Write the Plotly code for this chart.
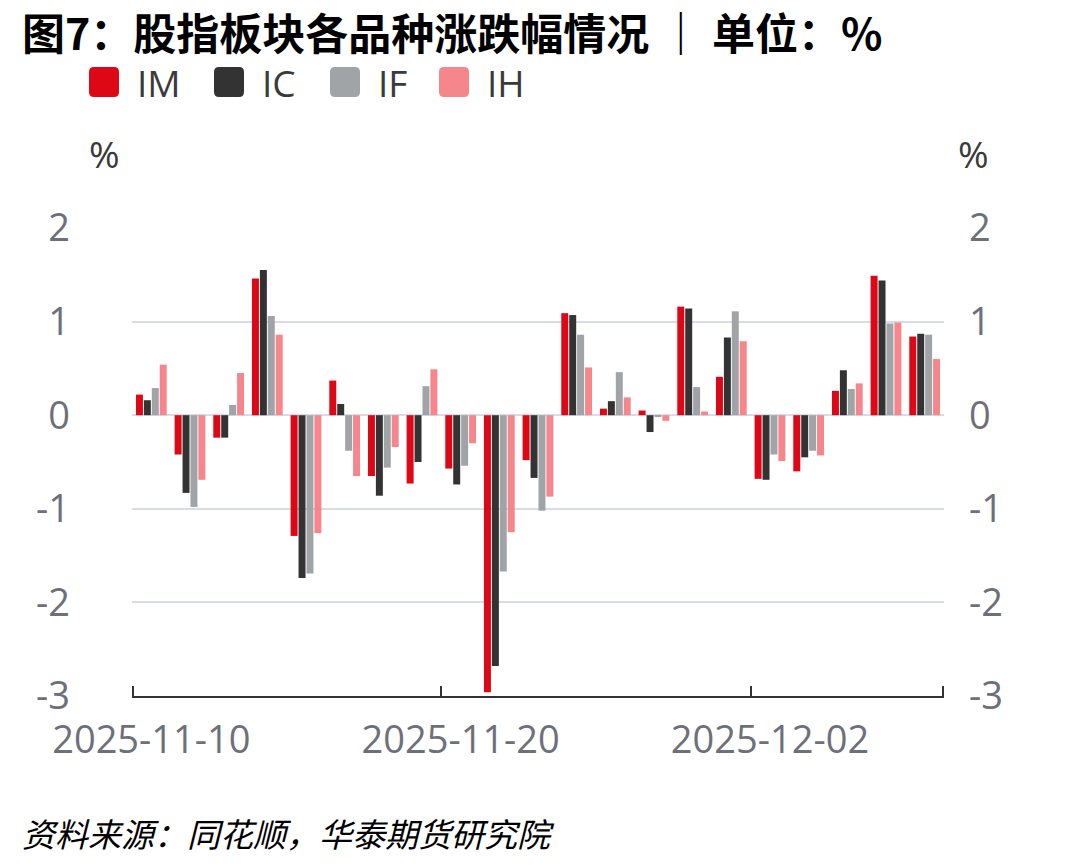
import plotly.graph_objects as go

# ---------------- data ----------------
dates = ["2025-11-10", "2025-11-11", "2025-11-12", "2025-11-13", "2025-11-14",
         "2025-11-17", "2025-11-18", "2025-11-19", "2025-11-20", "2025-11-21",
         "2025-11-24", "2025-11-25", "2025-11-26", "2025-11-27", "2025-11-28",
         "2025-12-01", "2025-12-02", "2025-12-03", "2025-12-04", "2025-12-05",
         "2025-12-08"]
series_names = ["IM", "IC", "IF", "IH"]
IM = [0.22, -0.42, -0.24, 1.46, -1.29, 0.37, -0.65, -0.73, -0.57, -2.96, -0.48,
      1.09, 0.07, 0.05, 1.16, 0.41, -0.68, -0.60, 0.26, 1.49, 0.84]
IC = [0.16, -0.83, -0.24, 1.55, -1.74, 0.12, -0.86, -0.50, -0.74, -2.68, -0.67,
      1.07, 0.15, -0.18, 1.14, 0.83, -0.69, -0.45, 0.48, 1.44, 0.87]
IF = [0.29, -0.98, 0.11, 1.06, -1.69, -0.38, -0.56, 0.31, -0.54, -1.67, -1.02,
      0.86, 0.46, -0.02, 0.30, 1.11, -0.42, -0.38, 0.28, 0.98, 0.86]
IH = [0.54, -0.69, 0.45, 0.86, -1.26, -0.65, -0.34, 0.49, -0.30, -1.25, -0.87,
      0.51, 0.19, -0.06, 0.04, 0.79, -0.49, -0.43, 0.34, 0.99, 0.60]
y_ticks = [-3, -2, -1, 0, 1, 2]
y_ticktext = ["-3", "-2", "-1", "0", "1", "2"]
x_label_idx = [0, 8, 16]
title_text = "图7：股指板块各品种涨跌幅情况 ｜ 单位：%"
source_text = "资料来源：同花顺，华泰期货研究院"
unit_text = "%"

# ---------------- style ----------------
colors = ["#DD0715", "#333333", "#A1A4A7", "#F4868C"]
W, H = 1078, 866
L, R, T, B = 132, 134, 228, 170
PW, PH = W - L - R, H - T - B
tick_font = dict(family="Open Sans, Noto Sans, sans-serif", size=38, color="#6E7079")

def px_x(px):
    return (px - L) / PW

def px_y(py):
    return (H - B - py) / PH

fig = go.Figure()
for name, vals, col in zip(series_names, [IM, IC, IF, IH], colors):
    fig.add_trace(go.Bar(x=dates, y=vals, name=name, marker=dict(color=col, line=dict(width=0)),
                         showlegend=False))

# helper empty traces so the overlay axes (tick frame / right labels) are drawn
fig.add_trace(go.Scatter(x=[], y=[], xaxis="x2", yaxis="y", showlegend=False, hoverinfo="skip"))
fig.add_trace(go.Scatter(x=[], y=[], xaxis="x", yaxis="y2", showlegend=False, hoverinfo="skip"))

n = len(dates)
eps = 0.035
fig.update_layout(
    width=W, height=H,
    margin=dict(l=L, r=R, t=T, b=B),
    paper_bgcolor="white", plot_bgcolor="white",
    barmode="group", bargap=0.18, bargroupgap=0.12,
    xaxis=dict(type="category", categoryorder="array", categoryarray=dates,
               range=[-0.5, n - 0.5], tickmode="array",
               tickvals=[dates[i] for i in x_label_idx],
               ticktext=[dates[i] for i in x_label_idx],
               ticks="", showline=False, showgrid=False, zeroline=False,
               tickfont=tick_font, ticklabelstandoff=18),
    xaxis2=dict(overlaying="x", anchor="y", side="bottom", type="linear",
                range=[-0.5, n - 0.5], tickmode="array",
                tickvals=[x_label_idx[0] - 0.5 + eps, x_label_idx[1] - 0.5,
                          x_label_idx[2] - 0.5, n - 0.5 - eps],
                ticks="inside", ticklen=10, tickwidth=2, tickcolor="#333333",
                showline=True, linecolor="#333333", linewidth=2,
                showticklabels=False, showgrid=False, zeroline=False),
    yaxis=dict(range=[-3, 2], tickmode="array", tickvals=y_ticks, ticktext=y_ticktext,
               showgrid=True, gridcolor="#D8DCE7", gridwidth=2,
               zeroline=False, showline=False, ticks="",
               tickfont=tick_font, ticklabelstandoff=61),
    yaxis2=dict(overlaying="y", side="right", anchor="x", range=[-3, 2],
                tickmode="array", tickvals=y_ticks, ticktext=y_ticktext, showgrid=False,
                zeroline=False, showline=False, ticks="",
                tickfont=tick_font, ticklabelstandoff=24),
)

annotations = [
    dict(text="<b>" + title_text + "</b>", x=px_x(20), y=px_y(31), xref="paper", yref="paper",
         xanchor="left", yanchor="middle", showarrow=False,
         font=dict(family="Noto Sans CJK SC, sans-serif", size=43, color="#000000")),
    dict(text="<i>" + source_text + "</i>", x=px_x(20), y=px_y(833), xref="paper", yref="paper",
         xanchor="left", yanchor="middle", showarrow=False,
         font=dict(family="Noto Sans CJK SC, sans-serif", size=33, color="#000000")),
    dict(text=unit_text, x=px_x(104), y=px_y(154), xref="paper", yref="paper",
         xanchor="center", yanchor="middle", showarrow=False,
         font=dict(family="Open Sans, sans-serif", size=37, color="#3A3A3A")),
    dict(text=unit_text, x=px_x(973), y=px_y(154), xref="paper", yref="paper",
         xanchor="center", yanchor="middle", showarrow=False,
         font=dict(family="Open Sans, sans-serif", size=37, color="#3A3A3A")),
]

# custom legend (rounded squares + labels)
legend_left = [89, 214, 330, 439]
legend_cy = 82
s, r = 15, 5  # half size, corner radius
rr_path = (f"M{-s+r},{-s} L{s-r},{-s} Q{s},{-s} {s},{-s+r} L{s},{s-r} Q{s},{s} {s-r},{s} "
           f"L{-s+r},{s} Q{-s},{s} {-s},{s-r} L{-s},{-s+r} Q{-s},{-s} {-s+r},{-s} Z")
shapes = []
for name, col, lx in zip(series_names, colors, legend_left):
    shapes.append(dict(type="path", xref="paper", yref="paper",
                       xsizemode="pixel", ysizemode="pixel",
                       xanchor=px_x(lx + s), yanchor=px_y(legend_cy),
                       path=rr_path, fillcolor=col, line=dict(width=0)))
    annotations.append(dict(text=name, x=px_x(lx + 2 * s + 16), y=px_y(legend_cy), xref="paper", yref="paper",
                            xanchor="left", yanchor="middle", showarrow=False,
                            font=dict(family="Open Sans, sans-serif", size=37, color="#3A3A3A")))

fig.update_layout(annotations=annotations, shapes=shapes)
fig.write_html("out.html")
